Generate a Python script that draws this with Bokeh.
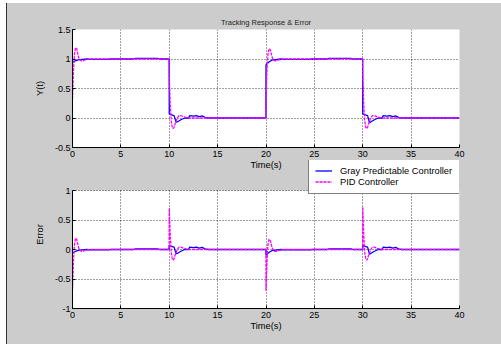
import numpy as np
from bokeh.plotting import figure
from bokeh.models import Range1d, FixedTicker, Legend, LegendItem, Div, BoxAnnotation, Label
from bokeh.layouts import row, column
from bokeh.embed import file_html
from bokeh.resources import INLINE

# ---------------- data ----------------
x_ticks = [0, 5, 10, 15, 20, 25, 30, 35, 40]
x_labels = ["0", "5", "10", "15", "20", "25", "30", "35", "40"]
y_ticks_top = [-0.5, 0, 0.5, 1, 1.5]
y_labels_top = ["-0.5", "0", "0.5", "1", "1.5"]
y_ticks_bot = [-1, -0.5, 0, 0.5, 1]
y_labels_bot = ["-1", "-0.5", "0", "0.5", "1"]

# reference square wave (step times and levels)
ref_times = [0, 10, 20, 30]
ref_levels = [1, 0, 1, 0]

# Gray Predictable Controller output
t_gp = [0.0, 0.1, 0.3, 0.6, 1.0, 1.5, 2.0, 3.7, 4.0, 6.3, 6.5, 8.8, 9.0, 9.99,
        10.0, 10.1, 10.5, 10.7, 10.9, 11.2, 11.6, 12.0, 12.1, 12.5, 12.8, 13.1, 13.4, 13.7, 14.0, 19.99,
        20.0, 20.1, 20.3, 20.6, 21.0, 21.5, 22.0, 24.6, 24.8, 26.3, 26.5, 28.8, 29.0, 29.99,
        30.0, 30.1, 30.5, 30.7, 30.9, 31.2, 31.6, 32.0, 32.1, 32.5, 32.8, 33.1, 33.4, 33.7, 34.0, 40.0]
y_gp = [0.93, 0.95, 0.97, 0.985, 0.995, 1.0, 0.993, 0.993, 1.0, 1.0, 1.01, 1.01, 1.0, 1.0,
        0.07, 0.06, 0.04, -0.07, -0.06, -0.03, 0.0, 0.0, 0.04, 0.03, 0.04, 0.025, 0.035, 0.01, 0.0, 0.0,
        0.9, 0.92, 0.95, 0.98, 0.99, 1.0, 0.995, 0.995, 1.0, 1.0, 1.01, 1.01, 1.0, 1.0,
        0.07, 0.06, 0.04, -0.08, -0.06, -0.03, 0.0, 0.0, 0.04, 0.03, 0.04, 0.025, 0.035, 0.01, 0.0, 0.0]

# PID Controller output
t_pid = [0.0, 0.1, 0.2, 0.3, 0.4, 0.5, 0.6, 0.7, 0.9, 1.1, 1.4, 1.8, 9.99,
         10.0, 10.1, 10.2, 10.3, 10.4, 10.5, 10.6, 10.8, 11.0, 11.2, 11.5, 11.9, 19.99,
         20.0, 20.1, 20.2, 20.3, 20.4, 20.5, 20.6, 20.7, 20.9, 21.1, 21.4, 21.8, 29.99,
         30.0, 30.1, 30.2, 30.3, 30.4, 30.5, 30.6, 30.8, 31.0, 31.2, 31.5, 31.9, 40.0]
y_pid = [0.32, 0.8, 1.08, 1.18, 1.19, 1.13, 1.05, 1.0, 0.97, 0.97, 0.99, 1.0, 1.0,
         0.7, 0.25, -0.04, -0.15, -0.18, -0.16, -0.1, -0.01, 0.04, 0.04, 0.02, 0.0, 0.0,
         0.3, 0.8, 1.08, 1.17, 1.17, 1.12, 1.05, 1.0, 0.97, 0.97, 0.99, 1.0, 1.0,
         0.72, 0.25, -0.04, -0.15, -0.18, -0.16, -0.1, -0.01, 0.04, 0.04, 0.02, 0.0, 0.0]


def ref_at(t):
    idx = np.searchsorted(np.array(ref_times), np.array(t), side="right") - 1
    return np.array(ref_levels)[idx]


e_gp = np.array(y_gp) - ref_at(t_gp)
e_pid = np.array(y_pid) - ref_at(t_pid)

# ---------------- styling ----------------
FONT = "Liberation Sans"
BG = "#cccccc"
BLUE = "#0000ff"
MAGENTA = "#ff00ff"


def style(p, yt, yl, ylabel):
    p.border_fill_color = BG
    p.outline_line_color = None
    xa, ya = p.xaxis[0], p.yaxis[0]
    xa.ticker = FixedTicker(ticks=x_ticks)
    xa.major_label_overrides = {t: l for t, l in zip(x_ticks, x_labels)}
    ya.ticker = FixedTicker(ticks=yt)
    ya.major_label_overrides = {t: l for t, l in zip(yt, yl)}
    for ax in (xa, ya):
        ax.axis_line_color = "black"
        ax.major_tick_line_color = "black"
        ax.major_tick_in = 3
        ax.major_tick_out = 0
        ax.minor_tick_line_color = None
        ax.major_label_text_font = FONT
        ax.major_label_text_font_size = "9px"
        ax.major_label_text_color = "black"
        ax.axis_label_text_font = FONT
        ax.axis_label_text_font_size = "9.3px"
        ax.axis_label_text_font_style = "normal"
        ax.axis_label_text_color = "black"
    xa.major_label_standoff = 3
    ya.major_label_standoff = 2
    ya.axis_label = ylabel
    ya.axis_label_standoff = 7
    for g in (p.xgrid[0], p.ygrid[0]):
        g.grid_line_color = "black"
        g.grid_line_alpha = 0.75
        g.grid_line_dash = "1 2"
        g.grid_line_width = 1
    p.xgrid[0].ticker = FixedTicker(ticks=x_ticks)
    p.ygrid[0].ticker = FixedTicker(ticks=yt)


# top panel: tracking response
p1 = figure(width=494, height=157, x_range=Range1d(0, 40), y_range=Range1d(-0.5, 1.5),
            output_backend="svg", toolbar_location=None,
            min_border_left=65, min_border_right=42, min_border_top=26, min_border_bottom=13)
style(p1, y_ticks_top, y_labels_top, "Y(t)")
p1.background_fill_color = "white"
p1.title.text = "Tracking Response & Error"
p1.title.align = "center"
p1.title.offset = 7
p1.title.standoff = 5
p1.title.text_font = FONT
p1.title.text_font_size = "7.5px"
p1.title.text_font_style = "normal"
p1.title.text_color = "#222222"
p1.line(t_gp, y_gp, line_color=BLUE, line_width=1.3)
p1.line(t_pid, y_pid, line_color=MAGENTA, line_width=1.3, line_dash="3 1")

# bottom panel: error.  Its frame reaches up into the gap so that the legend
# (which overlaps the gap) is not clipped; the white plot area is y in [-1, 1].
panel_px = 118          # pixel height of the [-1, 1] plot area
frame_px = 148          # pixel height of the whole frame
y_top_ext = -1 + 2 * frame_px / panel_px
p2 = figure(width=494, height=184, x_range=Range1d(0, 40), y_range=Range1d(-1, y_top_ext),
            output_backend="svg", toolbar_location=None,
            min_border_left=65, min_border_right=42, min_border_top=0, min_border_bottom=36)
style(p2, y_ticks_bot, y_labels_bot, "Error")
p2.background_fill_color = BG
p2.yaxis[0].bounds = (-1, 1)
p2.xgrid[0].cross_bounds = (-1, 1)
p2.add_layout(BoxAnnotation(left=0, right=40, bottom=-1, top=1, fill_color="white",
                            fill_alpha=1, line_color=None, level="image"))
p2.xaxis[0].axis_label = "Time(s)"
p2.xaxis[0].axis_label_standoff = 0
# x-axis label of the upper panel (sits in the gap between the panels)
p2.add_layout(Label(x=20, y=1.43, text="Time(s)", text_align="center", text_baseline="middle",
                    text_font=FONT, text_font_size="9.3px", text_color="black"))
r_gp = p2.line(t_gp, e_gp, line_color=BLUE, line_width=1.3)
r_pid = p2.line(t_pid, e_pid, line_color=MAGENTA, line_width=1.3, line_dash="3 1")

legend = Legend(items=[LegendItem(label="Gray Predictable Controller", renderers=[r_gp]),
                       LegendItem(label="PID Controller", renderers=[r_pid])],
                location=(236, 114), padding=6, margin=0, spacing=0,
                glyph_width=17, glyph_height=11, label_height=11, label_width=115,
                label_standoff=8, border_line_color="black", border_line_width=1,
                background_fill_color="white", background_fill_alpha=1,
                label_text_font=FONT, label_text_font_size="9.3px", label_text_color="black")
p2.add_layout(legend)

edge = Div(width=1, height=341, margin=0, styles={"background-color": "#333333"})
layout = row(edge, column(p1, p2, spacing=0, styles={"background-color": BG}),
             spacing=0, margin=(3, 0, 0, 6))

open("out.html", "w").write(file_html(layout, INLINE))
